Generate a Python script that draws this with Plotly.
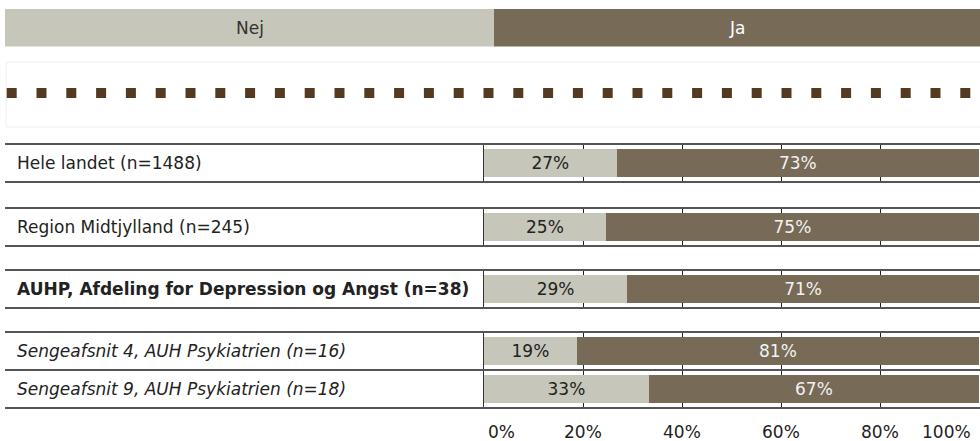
import plotly.graph_objects as go

# ---------------- data ----------------
categories = [
    "Hele landet (n=1488)",
    "Region Midtjylland (n=245)",
    "AUHP, Afdeling for Depression og Angst (n=38)",
    "Sengeafsnit 4, AUH Psykiatrien (n=16)",
    "Sengeafsnit 9, AUH Psykiatrien (n=18)",
]
group_of = [1, 2, 3, 4, 4]
label_style = ["normal", "normal", "bold", "italic", "italic"]
nej = [26.8, 24.6, 28.9, 18.75, 33.3]
ja = [73.2, 75.4, 71.1, 81.25, 66.7]
series_names = ["Nej", "Ja"]
tick_vals = [0, 20, 40, 60, 80, 100]
tick_text = ["0%", "20%", "40%", "60%", "80%", "100%"]

# ---------------- style ----------------
W, H = 980, 441
C_NEJ = "#C6C7BA"
C_JA = "#776A57"
C_DOT = "#553A22"
C_LINE = "#555555"
C_GRID = "#222222"
FONT = "DejaVu Sans, Verdana, sans-serif"
FS = 17


def px(x):
    return x / W


def py(y):
    return 1 - y / H


# group pixel extents (top, bottom)
group_px = {1: (144, 182), 2: (208, 246), 3: (270, 308), 4: (332, 408)}
X0, X1 = 484, 979

fig = go.Figure()

for g, (top, bot) in group_px.items():
    idx = [i for i, gg in enumerate(group_of) if gg == g]
    cats = [categories[i] for i in idx]
    sfx = "" if g == 1 else str(g)
    for name, vals, col, tcol in [
        ("Nej", nej, C_NEJ, "#222222"),
        ("Ja", ja, C_JA, "#F2F2F2"),
    ]:
        fig.add_trace(go.Bar(
            y=cats, x=[vals[i] for i in idx], orientation="h",
            name=name, marker=dict(color=col, line=dict(width=0)),
            texttemplate="%{x:.0f}%", textposition="inside",
            insidetextanchor="middle", textangle=0,
            textfont=dict(family=FONT, size=FS, color=tcol),
            constraintext="none",
            xaxis="x" + sfx, yaxis="y" + sfx, showlegend=False,
            hoverinfo="skip",
        ))
    fig.layout["xaxis" + sfx] = dict(
        domain=[px(X0), px(X1)], range=[0, 100], anchor="y" + sfx,
        tickvals=tick_vals[1:-1], showticklabels=False, ticks="",
        showgrid=True, gridcolor=C_GRID, gridwidth=1, zeroline=False,
        showline=False, fixedrange=True,
    )
    fig.layout["yaxis" + sfx] = dict(
        domain=[py(bot), py(top)], anchor="x" + sfx,
        categoryorder="array", categoryarray=cats, autorange="reversed",
        showticklabels=False, ticks="", showgrid=False, zeroline=False,
        showline=True, linecolor="#333333", linewidth=1.5, fixedrange=True,
    )
    # horizontal row borders
    n = len(cats)
    for k in range(n + 1):
        fig.add_shape(type="line", xref="paper", yref="y%s domain" % sfx,
                      x0=px(5), x1=px(980), y0=k / n, y1=k / n,
                      line=dict(color=C_LINE, width=2))
    # row labels
    for i in idx:
        txt = categories[i]
        if label_style[i] == "bold":
            txt = "<b>" + txt + "</b>"
        elif label_style[i] == "italic":
            txt = "<i>" + txt + "</i>"
        fig.add_annotation(x=px(15), xref="paper", y=categories[i], yref="y" + sfx,
                           text=txt, showarrow=False, xanchor="left", yanchor="middle",
                           font=dict(family=FONT, size=FS, color="#222222"))

fig.update_layout(barmode="stack", bargap=0.24)

# x tick labels (bottom)
for v, t in zip(tick_vals, tick_text):
    anchor = "left" if v == 0 else ("right" if v == 100 else "center")
    fig.add_annotation(x=v, xref="x4", y=py(432), yref="paper", text=t,
                       showarrow=False, xanchor=anchor, yanchor="middle",
                       xshift=2 if v == 0 else (-6 if v == 100 else 0),
                       font=dict(family=FONT, size=FS, color="#222222"))

# header legend bar
fig.add_shape(type="rect", xref="paper", yref="paper", x0=px(5), x1=px(494),
              y0=py(46.5), y1=py(9), fillcolor=C_NEJ, line=dict(width=0), layer="below")
fig.add_shape(type="rect", xref="paper", yref="paper", x0=px(494), x1=px(980),
              y0=py(46.5), y1=py(9), fillcolor=C_JA, line=dict(width=0), layer="below")
fig.add_annotation(x=px(249.5), y=py(27.5), xref="paper", yref="paper", text=series_names[0],
                   showarrow=False, xanchor="center", yanchor="middle",
                   font=dict(family=FONT, size=FS, color="#333333"))
fig.add_annotation(x=px(737), y=py(27.5), xref="paper", yref="paper", text=series_names[1],
                   showarrow=False, xanchor="center", yanchor="middle",
                   font=dict(family=FONT, size=FS, color="#FFFFFF"))

# faint box with dotted line
fig.add_shape(type="rect", xref="paper", yref="paper", x0=px(6), x1=px(981),
              y0=py(127), y1=py(62), line=dict(color="#EEEEEE", width=1))
fig.add_shape(type="line", xref="paper", yref="paper", x0=px(6.7), x1=px(975),
              y0=py(93), y1=py(93), line=dict(color=C_DOT, width=10, dash="10px,19.8px"))

fig.update_layout(
    width=W, height=H, margin=dict(l=0, r=0, t=0, b=0),
    paper_bgcolor="white", plot_bgcolor="white",
    showlegend=False, font=dict(family=FONT, size=FS),
)

fig.write_html(
    "out.html",
    config={"displayModeBar": False, "staticPlot": True},
    post_script="document.body.style.margin='0';document.body.style.overflow='hidden';",
)
